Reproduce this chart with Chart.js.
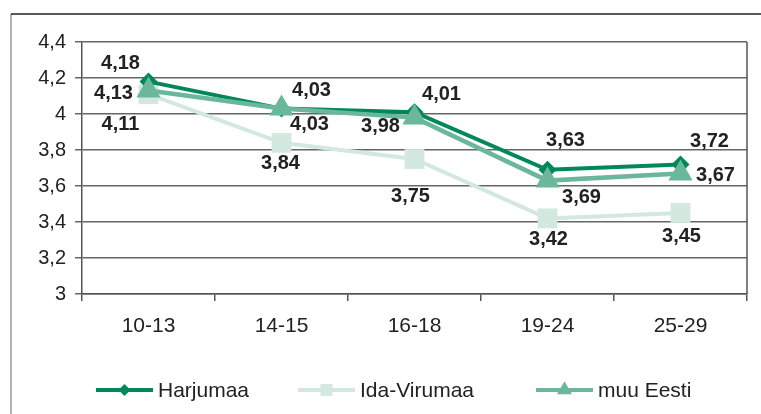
<!DOCTYPE html>
<html>
<head>
<meta charset="utf-8">
<script src="https://cdn.jsdelivr.net/npm/chart.js@4/dist/chart.umd.min.js"></script>
<style>
  html, body { margin: 0; padding: 0; background: #fff; }
  #wrap { width: 761px; height: 414px; }
</style>
</head>
<body>
<div id="wrap"><canvas id="agechart" width="761" height="414"></canvas></div>
<script>
// data
var ageGroups = ["10-13", "14-15", "16-18", "19-24", "25-29"];
var harjumaa = [4.18, 4.03, 4.01, 3.69, 3.72];
var idaVirumaa = [4.11, 3.84, 3.75, 3.42, 3.45];
var muuEesti = [4.13, 4.03, 3.98, 3.63, 3.67];
var seriesNames = ["Harjumaa", "Ida-Virumaa", "muu Eesti"];
var yTicks = [3, 3.2, 3.4, 3.6, 3.8, 4, 4.2, 4.4];

// where each value label sits relative to its point (dx, dy)
var labelShift = [
  [[-28, -18], [30, -18], [27, -18], [34, 28], [29, -23]],
  [[-28, 30], [-1, 21], [-4, 37], [1, 21], [1, 23]],
  [[-35, 3], [28, 16], [-34, 9], [18, -40], [35, 2]]
];

var dark = "#00885a", pale = "#d3e8df", mid = "#6ab79a";
var font = "'Liberation Sans', Arial, sans-serif";

function comma(v, d) {
  return (d ? v.toFixed(d) : String(Math.round(v * 10) / 10)).replace(".", ",");
}

var frame = {
  id: "frame",
  beforeDraw: function (chart) {
    var ctx = chart.ctx;
    ctx.save();
    ctx.strokeStyle = "#999";
    ctx.lineWidth = 1.5;
    ctx.beginPath();
    ctx.moveTo(11, chart.height);
    ctx.lineTo(11, 14);
    ctx.stroke();
    ctx.strokeStyle = "#222";
    ctx.beginPath();
    ctx.moveTo(11, 14);
    ctx.lineTo(chart.width, 14);
    ctx.stroke();
    ctx.restore();
  },
  beforeDatasetsDraw: function (chart) {
    var a = chart.chartArea, ctx = chart.ctx;
    ctx.save();
    ctx.strokeStyle = "#555";
    ctx.lineWidth = 1.5;
    ctx.beginPath();
    ctx.moveTo(a.right, a.top);
    ctx.lineTo(a.right, a.bottom);
    ctx.stroke();
    ctx.restore();
  }
};

var valueLabels = {
  id: "valueLabels",
  afterDatasetsDraw: function (chart) {
    var ctx = chart.ctx;
    ctx.save();
    ctx.font = "bold 20px " + font;
    ctx.fillStyle = "#222";
    ctx.textAlign = "center";
    ctx.textBaseline = "middle";
    chart.data.datasets.forEach(function (ds, di) {
      var meta = chart.getDatasetMeta(di);
      meta.data.forEach(function (pt, i) {
        var s = labelShift[di][i];
        ctx.fillText(comma(ds.data[i], 2), pt.x + s[0], pt.y + s[1]);
      });
    });
    ctx.restore();
  }
};

var lineLegend = {
  id: "lineLegend",
  afterDraw: function (chart) {
    var ctx = chart.ctx;
    var starts = [96, 298, 536];
    var y = 390;
    var sizes = [6, 8.5, 8.7];
    ctx.save();
    ctx.font = "21px " + font;
    ctx.textBaseline = "middle";
    ctx.textAlign = "left";
    chart.data.datasets.forEach(function (ds, di) {
      var x = starts[di];
      ctx.strokeStyle = ds.borderColor;
      ctx.lineWidth = 4;
      ctx.beginPath();
      ctx.moveTo(x, y);
      ctx.lineTo(x + 57, y);
      ctx.stroke();
      ctx.fillStyle = ds.borderColor;
      Chart.helpers.drawPoint(ctx, {pointStyle: ds.pointStyle, radius: sizes[di], rotation: 0, borderWidth: 0}, x + 28.5, y);
      ctx.fillStyle = "#222";
      ctx.fillText(ds.label, x + 62, y + 1);
    });
    ctx.restore();
  }
};

var config = {
  type: "line",
  data: {
    labels: ageGroups,
    datasets: [
      {label: seriesNames[0], data: harjumaa, borderColor: dark, backgroundColor: dark,
       borderWidth: 4, pointStyle: "rectRot", pointRadius: 9, pointBorderWidth: 0,
       pointBackgroundColor: dark, order: 1},
      {label: seriesNames[1], data: idaVirumaa, borderColor: pale, backgroundColor: pale,
       borderWidth: 4, pointStyle: "rect", pointRadius: 14, pointBorderWidth: 0,
       pointBackgroundColor: pale, order: 2},
      {label: seriesNames[2], data: muuEesti, borderColor: mid, backgroundColor: mid,
       borderWidth: 4.5, pointStyle: "triangle", pointRadius: 14, pointBorderWidth: 0,
       pointBackgroundColor: mid, order: 0}
    ]
  },
  options: {
    responsive: false,
    animation: false,
    devicePixelRatio: 1,
    layout: {padding: {top: 42, right: 11, left: 12, bottom: 70}},
    plugins: {legend: {display: false}, tooltip: {enabled: false}},
    elements: {line: {tension: 0}},
    scales: {
      x: {
        offset: true,
        grid: {offset: true, drawOnChartArea: false, drawTicks: true, tickLength: 7, color: "#555", lineWidth: 1.5},
        border: {color: "#555", width: 1.5},
        ticks: {color: "#222", font: {size: 21, family: font}, padding: 13},
        afterFit: function (s) { s.height = 50; }
      },
      y: {
        min: 3, max: 4.4,
        afterBuildTicks: function (s) { s.ticks = yTicks.map(function (v) { return {value: v}; }); },
        grid: {color: "#666", lineWidth: 1.5, tickLength: 7},
        border: {color: "#555", width: 1.5},
        ticks: {color: "#222", font: {size: 20, family: font}, padding: 9,
                callback: function (v) { return comma(v); }},
        afterFit: function (s) { s.width = 70; }
      }
    }
  },
  plugins: [frame, valueLabels, lineLegend]
};

var ageChart = new Chart(document.getElementById("agechart"), config);
</script>
</body>
</html>
